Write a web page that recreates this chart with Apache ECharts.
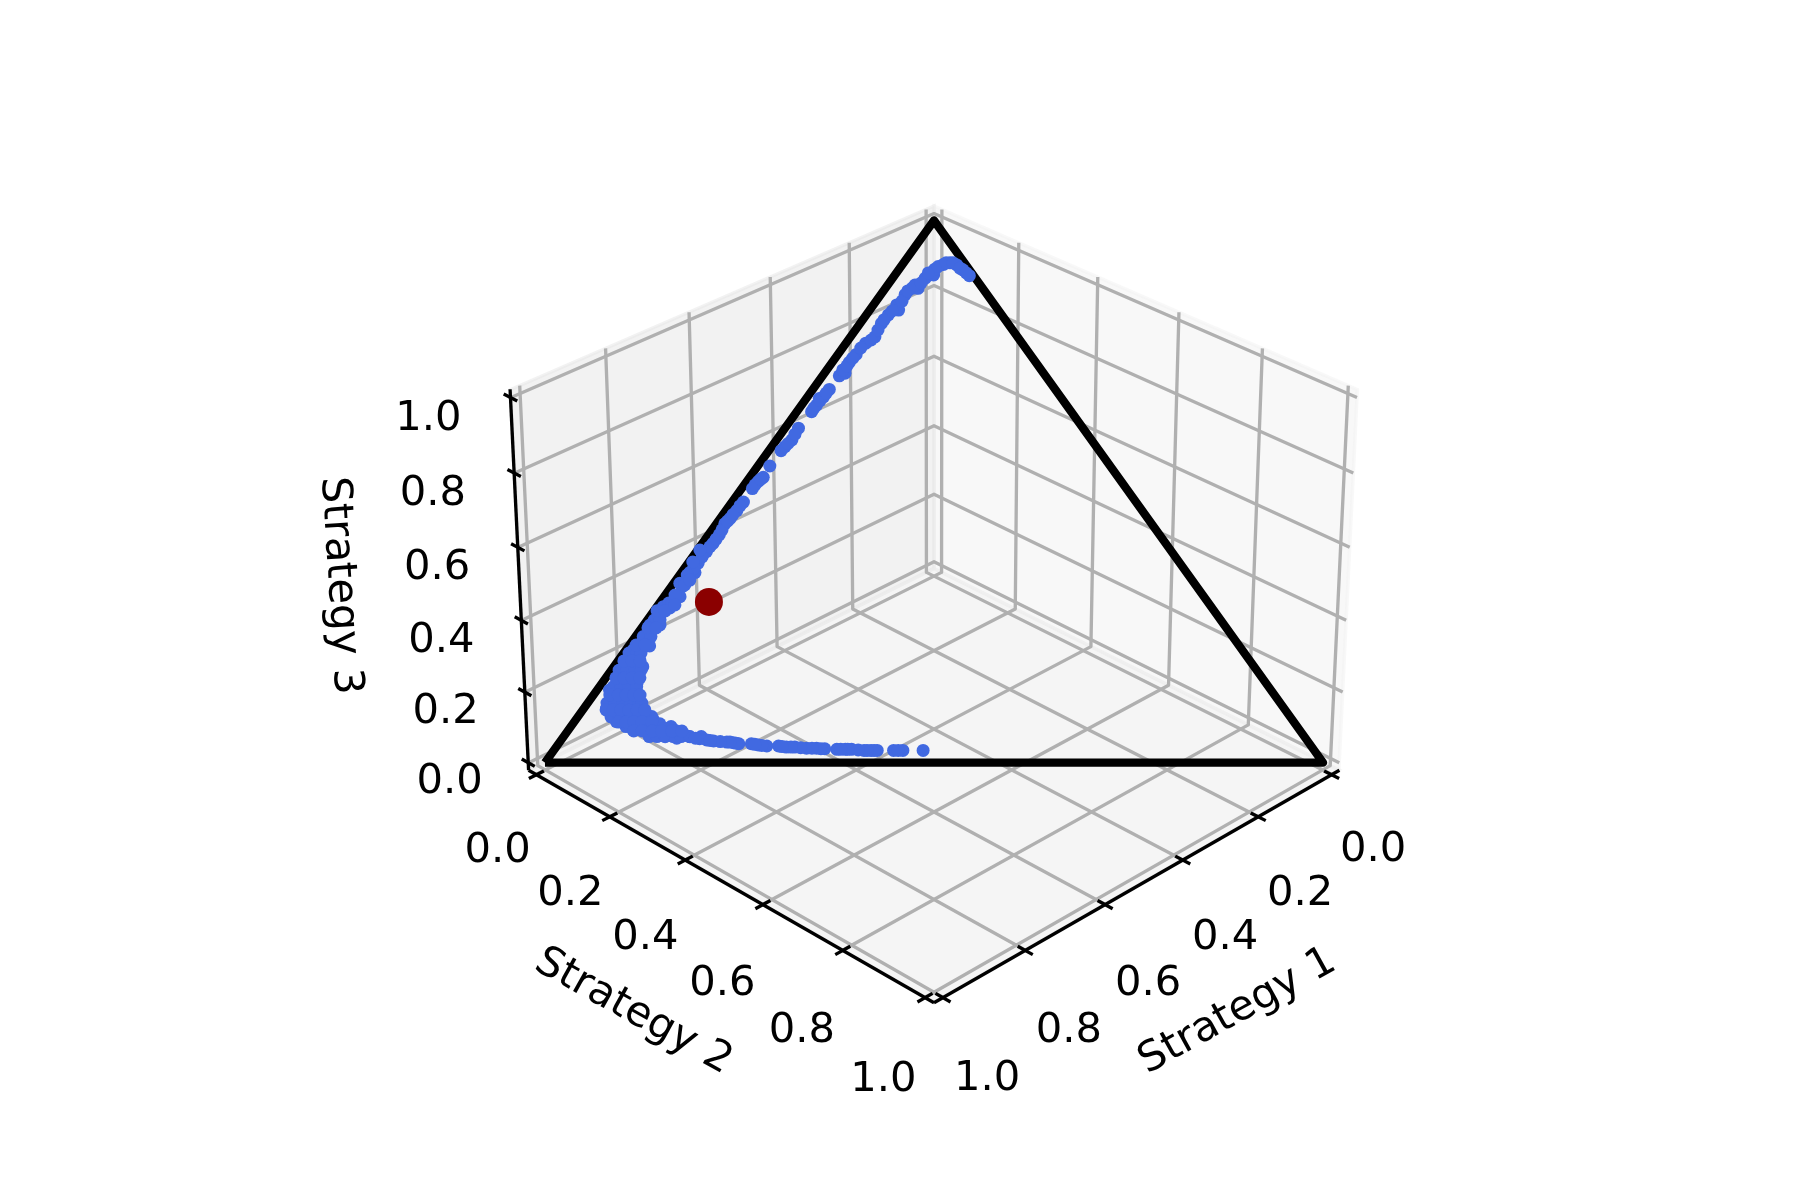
<!DOCTYPE html>
<html>
<head>
<meta charset="utf-8">
<style>html,body{margin:0;padding:0;background:#fff}#c{width:1800px;height:1200px}</style>
<script src="https://cdn.jsdelivr.net/npm/echarts@6/dist/echarts.min.js"></script>
</head>
<body>
<div id="c"></div>
<script>
// ---------- data ----------
const strategy1 = [.503,.529,.541,.562,.570,.579,.594,.602,.613,.628,.638,.651,.665,.676,.685,.700,.710,.718,.734,.740,.748,.764,.772,.780,.791,.796,.809,.811,.832,.823,.858,.872,.873,
  .847,.847,.855,.837,.859,.826,.821,.811,.789,.762,.730,.702,.679,.638,.853,.822,.787,.743,.709,.667,.824,.829,.809,.791,.765,.829,.847,.846,.752,.721,
  .644,.625,.604,.588,.572,.555,.543,.527,.511,.487,.473,.463,.444,.415,.406,.391,.372,.339,.327,.310,.296,.317,.270,.260,.244,.228,.205,.187,.166,.149,.129,.131,.108,.093,.085,.066,.052,.045,.029,.019,.012,.009,.006,
  .667,.699,.695,.733,.725,.762,.752,.795,.785,.779,.823,.813,.802,.794,.845,.835,.825,.815,.868,.857,.847,.837,.826,.823,.875,.864,.854,.844,.833,.822,.864,.854,.843,.833,.823,.806,.843,.833,.823,.812,.802,.791,.776,
  .635,.614,.595,.580,.564,.549,.536,.519,.480,.468,.399,.382,.333,.318,.303,.260,.251,.236,.216,.195,.177,.159,.140,.118,.101,.086,.076,.057,.038,.024,.015,.011,.007,.650,.684,.631,.611,
  .535,.566,.575,.586,.599,.608,.633,.644,.658,.670,.681,.706,.714,.737,.744,.756,.768,.785,.822,.804,.818,
  .721,.711,.748,.738,.779,.767,.809,.798,.788,.834,.824,.813,.803,.857,.846,.836,.826,.818,.875,.866,.856,.846,.835,.825,.870,.860,.850,.839,.827,.858,.847,.834,.822,.809,.796,.662,.651,.693];
const strategy2 = [.475,.449,.437,.416,.408,.399,.382,.374,.363,.347,.336,.323,.307,.296,.285,.270,.258,.248,.232,.224,.215,.197,.187,.177,.162,.154,.147,.127,.118,.100,.083,.054,.029,
  .046,.064,.037,.080,.058,.073,.060,.045,.037,.027,.021,.018,.021,.018,.016,.011,.010,.008,.008,.008,.039,.027,.024,.023,.013,.052,.028,.088,.017,.012,
  .011,.013,.013,.014,.014,.011,.013,.014,.015,.014,.015,.018,.016,.016,.017,.020,.018,.019,.020,.021,.022,.017,.022,.027,.022,.024,.026,.032,.028,.029,.031,.038,.032,.035,.043,.043,.051,.047,.054,.061,.072,.085,.099,
  .014,.012,.016,.009,.016,.010,.020,.007,.017,.022,.010,.020,.030,.038,.018,.028,.038,.048,.025,.035,.046,.056,.066,.070,.043,.053,.063,.073,.084,.095,.071,.082,.092,.102,.112,.129,.110,.120,.131,.141,.151,.163,.177,
  .012,.012,.013,.014,.013,.012,.013,.014,.014,.016,.018,.019,.019,.020,.021,.021,.023,.023,.024,.030,.030,.028,.030,.034,.032,.036,.042,.042,.049,.056,.065,.079,.092,.010,.013,.005,.003,
  .443,.412,.403,.391,.377,.368,.342,.330,.315,.302,.290,.263,.253,.228,.219,.206,.192,.171,.128,.138,.112,
  .004,.015,.008,.019,.009,.020,.008,.018,.029,.013,.024,.034,.044,.021,.032,.042,.052,.060,.030,.039,.049,.060,.070,.080,.057,.067,.077,.087,.100,.085,.096,.109,.121,.134,.147,.016,.018,.022];
const strategy3 = [.022,.022,.022,.022,.022,.022,.024,.024,.024,.025,.026,.026,.028,.028,.030,.030,.032,.034,.034,.036,.037,.039,.041,.043,.047,.050,.044,.062,.050,.077,.059,.074,.098,
  .107,.089,.108,.083,.083,.101,.119,.144,.173,.211,.249,.280,.301,.345,.131,.167,.204,.249,.282,.325,.137,.144,.167,.186,.222,.119,.126,.066,.231,.267,
  .345,.362,.383,.398,.414,.434,.444,.458,.474,.499,.512,.520,.541,.569,.576,.589,.611,.641,.654,.669,.683,.666,.708,.713,.733,.748,.769,.781,.806,.822,.841,.831,.860,.872,.872,.891,.897,.908,.917,.920,.916,.907,.896,
  .319,.289,.289,.258,.258,.228,.228,.198,.198,.198,.167,.167,.167,.167,.137,.137,.137,.137,.1075,.1075,.1075,.1075,.1075,.1075,.083,.083,.083,.083,.083,.083,.065,.065,.065,.065,.065,.065,.047,.047,.047,.047,.047,.047,.047,
  .353,.373,.392,.406,.423,.439,.451,.467,.506,.516,.582,.600,.648,.662,.676,.719,.727,.741,.760,.775,.794,.813,.829,.848,.867,.878,.882,.901,.913,.920,.920,.910,.901,.340,.304,.364,.386,
  .022,.022,.022,.023,.024,.024,.025,.026,.027,.028,.029,.031,.033,.035,.037,.038,.040,.044,.050,.058,.070,
  .275,.275,.244,.244,.213,.213,.184,.184,.184,.153,.153,.153,.153,.122,.122,.122,.122,.122,.095,.095,.095,.095,.095,.095,.073,.073,.073,.073,.073,.057,.057,.057,.057,.057,.057,.322,.331,.286];
const startPoint = [0.646, 0.063, 0.291];
const triangle = [[1,0,0],[0,1,0],[0,0,1],[1,0,0]];
const tickValues = [0, 0.2, 0.4, 0.6, 0.8, 1];
const tickLabels = ['0.0','0.2','0.4','0.6','0.8','1.0'];
const axisTitles = ['Strategy 1','Strategy 2','Strategy 3'];

// ---------- the 3D view (elevation 30, azimuth 45, distance 10) ----------
const BX = 1.1429, BZ = 0.8572, DIST = 10;
const EL = 30*Math.PI/180, AZ = 45*Math.PI/180;
const CX = 934, CY = 584, SCALE = 4917, W = 1800, H = 1200;
const n = [Math.cos(EL)*Math.cos(AZ), Math.cos(EL)*Math.sin(AZ), Math.sin(EL)];
const r = [-Math.sin(AZ), Math.cos(AZ), 0];
const u = [-Math.sin(EL)*Math.cos(AZ), -Math.sin(EL)*Math.sin(AZ), Math.cos(EL)];
function project(p){
  const v = [(p[0]-.5)*BX, (p[1]-.5)*BX, (p[2]-.5)*BZ];
  const dot = a => a[0]*v[0]+a[1]*v[1]+a[2]*v[2];
  const k = DIST - dot(n);
  return [dot(r)/k, dot(u)/k];
}
const P = 1/48;      // pane margin
const A = 0.0215;    // axis line margin
const T = 0.018;     // half tick length
const LO = -P, HI = 1+P;

function line(pts, color, width, z, extra){
  return Object.assign({type:'line', data:pts.map(project), showSymbol:false, symbol:'none', silent:true, clip:false, z,
    animation:false, lineStyle:{color, width, cap:'butt', join:'round'}}, extra||{});
}
const series = [];
// panes
const panes = [
  {pts:[[LO,LO,LO],[LO,HI,LO],[LO,HI,HI],[LO,LO,HI]], c:'rgba(242,242,242,0.5)'},
  {pts:[[LO,LO,LO],[HI,LO,LO],[HI,LO,HI],[LO,LO,HI]], c:'rgba(230,230,230,0.5)'},
  {pts:[[LO,LO,LO],[HI,LO,LO],[HI,HI,LO],[LO,HI,LO]], c:'rgba(236,236,236,0.5)'}
];
series.push({type:'custom', coordinateSystem:'cartesian2d', silent:true, clip:false, z:1, animation:false,
  data:panes.map((p,i)=>[i]),
  renderItem(params, api){
    const p = panes[api.value(0)];
    return {type:'polygon', shape:{points:p.pts.map(q=>api.coord(project(q)))},
      style:{fill:p.c, stroke:p.c, lineWidth:3.33}};
  }});
// grid lines
tickValues.forEach(t=>{
  series.push(line([[t,HI,LO],[t,LO,LO],[t,LO,HI]],'#b0b0b0',3.33,2));
  series.push(line([[HI,t,LO],[LO,t,LO],[LO,t,HI]],'#b0b0b0',3.33,2));
  series.push(line([[HI,LO,t],[LO,LO,t],[LO,HI,t]],'#b0b0b0',3.33,2));
});
// axis lines
series.push(line([[-A,1+A,-A],[1+A,1+A,-A]],'#000',3.33,3));
series.push(line([[1+A,-A,-A],[1+A,1+A,-A]],'#000',3.33,3));
series.push(line([[1+A,-A,-A],[1+A,-A,1+A]],'#000',3.33,3));
// ticks
tickValues.forEach(t=>{
  series.push(line([[t,1+A-T,-A],[t,1+A+T,-A]],'#000',3.33,3));
  series.push(line([[1+A-T,t,-A],[1+A+T,t,-A]],'#000',3.33,3));
  series.push(line([[1+A,-A-T,t],[1+A,-A+T,t]],'#000',3.33,3));
});
// simplex
series.push(line(triangle,'#000',8.33,4));
// trajectory
series.push({type:'scatter', data:strategy1.map((s,i)=>project([s,strategy2[i],strategy3[i]])), symbol:'circle', symbolSize:13,
  itemStyle:{color:'#4169E1', opacity:1}, silent:true, clip:false, z:5, animation:false, large:false});
series.push({type:'scatter', data:[project(startPoint)], symbol:'circle', symbolSize:28,
  itemStyle:{color:'#8B0000', opacity:1}, silent:true, clip:false, z:6, animation:false});
// texts
const texts = [];
tickValues.forEach((t,i)=>{
  texts.push({p:[t,1.127,-0.176], s:tickLabels[i], a:0});
  texts.push({p:[1.121,t,-0.181], s:tickLabels[i], a:0});
  texts.push({p:[1.124,-0.124,t-0.057], s:tickLabels[i], a:0});
});
texts.push({p:[0.5,1.248,-0.24], s:axisTitles[0], a:29});
texts.push({p:[1.242,0.5,-0.245], s:axisTitles[1], a:-29});
texts.push({p:[1.248,-0.248,0.495], s:axisTitles[2], a:-86.4});
series.push({type:'custom', coordinateSystem:'cartesian2d', silent:true, clip:false, z:7, animation:false,
  data:texts.map((t,i)=>[i]),
  renderItem(params, api){
    const t = texts[api.value(0)];
    const c = api.coord(project(t.p));
    return {type:'text', x:c[0], y:c[1], rotation:t.a*Math.PI/180, originX:0, originY:0,
      style:{text:t.s, fontFamily:'DejaVu Sans', fontSize:41.67, fill:'#000', align:'center', verticalAlign:'middle'}};
  }});

const chart = echarts.init(document.getElementById('c'), null, {renderer:'canvas'});
chart.setOption({
  backgroundColor:'#fff', animation:false,
  grid:{left:0, right:0, top:0, bottom:0, containLabel:false},
  xAxis:{type:'value', show:false, min:-CX/SCALE, max:(W-CX)/SCALE, scale:true, splitLine:{show:false}},
  yAxis:{type:'value', show:false, min:-(H-CY)/SCALE, max:CY/SCALE, scale:true, splitLine:{show:false}},
  tooltip:{show:false},
  series
});
</script>
</body>
</html>
